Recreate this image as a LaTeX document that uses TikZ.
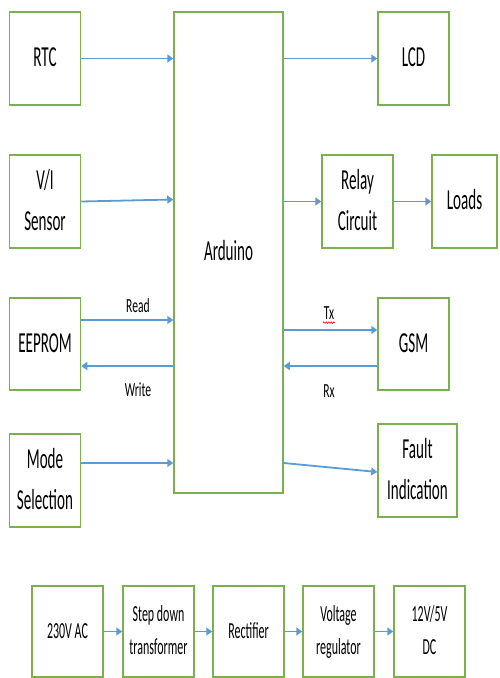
\documentclass[tikz,border=0pt]{standalone}
\usepackage{fontspec}
\setmainfont{Carlito}
\usepackage{graphicx}
\usetikzlibrary{arrows.meta,calc,decorations.pathmorphing}
\definecolor{boxgreen}{HTML}{7AB04F}
\definecolor{arrblue}{HTML}{5B9BD5}
\newcommand\sqz[2][0.52]{\scalebox{#1}[1]{\begin{tabular}{@{}c@{}}#2\end{tabular}}}
\tikzset{
  blk/.style={draw=boxgreen,line width=1.5pt,fill=white,inner sep=0pt,
    minimum width=71pt,minimum height=93pt,font=\fontsize{29}{41}\selectfont},
  pblk/.style={blk,minimum height=91pt,font=\fontsize{23}{33}\selectfont},
  arr/.style={draw=arrblue,line width=1.8pt,-{Triangle[length=6pt,width=8pt]}},
  lbl/.style={inner sep=0pt,font=\fontsize{20}{24}\selectfont}
}
\begin{document}
\begin{tikzpicture}[x=1pt,y=-1pt]
\useasboundingbox (0,0) rectangle (499,678);
% left column
\node[blk] (rtc) at (45,58.5) {\sqz{RTC}};
\node[blk] (vi) at (45,201.5) {\sqz{V/I\\Sensor}};
\node[blk,minimum height=92pt] (eep) at (45,344) {\sqz{EEPROM}};
\node[blk] (mode) at (45,480.5) {\sqz{Mode\\Selection}};
% arduino
\node[blk,minimum width=109pt,minimum height=481pt] (ard) at (228.5,252.5) {\sqz{Arduino}};
% right column
\node[blk] (lcd) at (413.5,58.5) {\sqz{LCD}};
\node[blk] (relay) at (357.5,201.5) {\sqz{Relay\\Circuit}};
\node[blk,minimum width=65pt] (loads) at (464.5,201.5) {\sqz{Loads}};
\node[blk,minimum height=92pt] (gsm) at (413.5,344) {\sqz{GSM}};
\node[blk,minimum width=79pt] (fault) at (417.5,470.5) {\sqz{Fault\\Indication}};
% power chain
\node[pblk] (ac) at (67.5,631.5) {\sqz{230V AC}};
\node[pblk] (sd) at (158.5,631.5) {\sqz{Step down\\transformer}};
\node[pblk] (rect) at (248.5,631.5) {\sqz{Rectifier}};
\node[pblk] (vreg) at (338.5,631.5) {\sqz{Voltage\\regulator}};
\node[pblk] (dc) at (429.5,631.5) {\sqz{12V/5V\\DC}};
% arrows left
\draw[arr] (rtc.east) -- (rtc.east -| ard.west);
\draw[arr] (vi.east) -- ([yshift=2pt]vi.east -| ard.west);
\draw[arr] ([yshift=24pt]eep.east) -- ([yshift=24pt]eep.east -| ard.west);
\draw[arr] ([yshift=-22pt]eep.east -| ard.west) -- ([yshift=-22pt]eep.east);
\draw[arr] ([yshift=17.5pt]mode.east) -- ([yshift=17.5pt]mode.east -| ard.west);
% arrows right
\draw[arr] (lcd.west -| ard.east) -- (lcd.west);
\draw[arr] (relay.west -| ard.east) -- (relay.west);
\draw[arr] (relay.east) -- (loads.west);
\draw[arr] ([yshift=14pt]gsm.west -| ard.east) -- ([yshift=14pt]gsm.west);
\draw[arr] ([yshift=-22pt]gsm.west) -- ([yshift=-22pt]gsm.west -| ard.east);
\draw[arr] ([yshift=7.5pt]fault.west -| ard.east) -- ([yshift=-1.5pt]fault.west);
% power arrows
\draw[arr] (ac) -- (sd);
\draw[arr] (sd) -- (rect);
\draw[arr] (rect) -- (vreg);
\draw[arr] (vreg) -- (dc);
% labels
\node[lbl] (read) at (138,306) {\scalebox{0.58}[1]{Read}};
\node[lbl] (write) at (138,390) {\scalebox{0.58}[1]{Write}};
\node[lbl] (tx) at (329,313) {\scalebox{0.58}[1]{Tx}};
\node[lbl] (rx) at (329,391) {\scalebox{0.58}[1]{Rx}};
\draw[red,line width=0.6pt,decorate,decoration={snake,segment length=2.5pt,amplitude=0.8pt}]
  ([xshift=-6pt,yshift=-3pt]tx.south) -- ([xshift=6pt,yshift=-3pt]tx.south);
\end{tikzpicture}
\end{document}
